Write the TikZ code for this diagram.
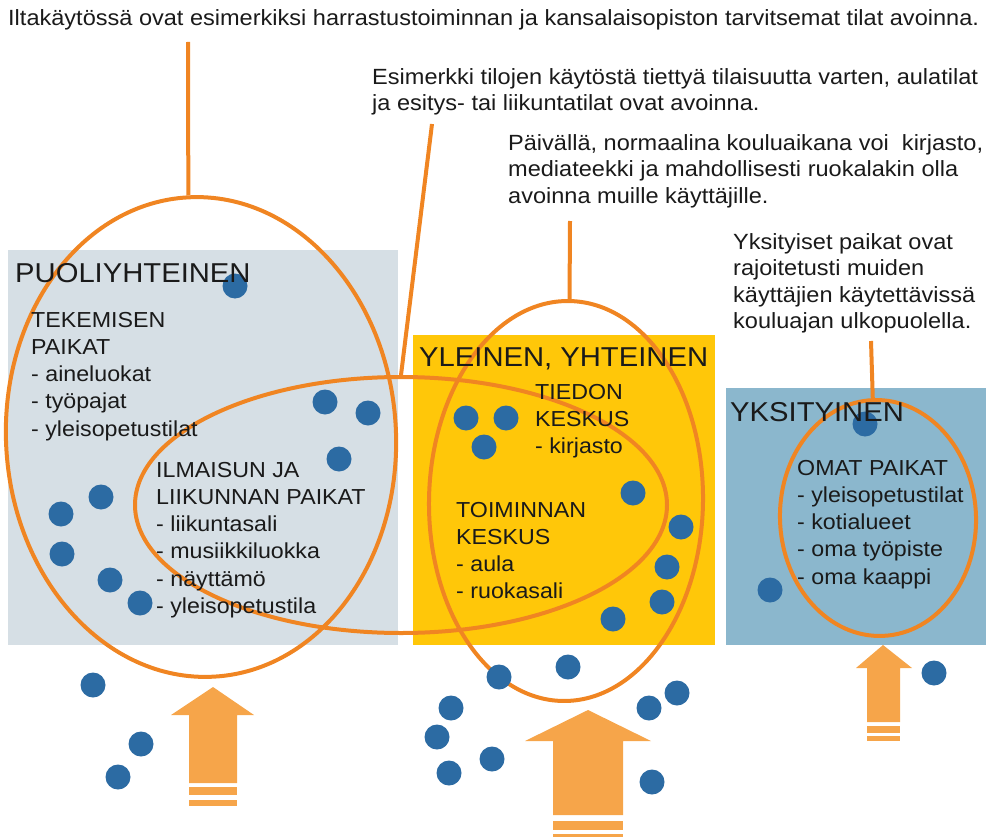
\documentclass[tikz,border=0pt]{standalone}
\usepackage{fontspec}
\setmainfont[FakeStretch=1.07]{Liberation Sans}
\usetikzlibrary{shapes.geometric}

\definecolor{zonegrey}{HTML}{D6DFE5}
\definecolor{zonegold}{HTML}{FFC709}
\definecolor{zoneblue}{HTML}{8BB7CD}
\definecolor{ringorange}{HTML}{F08522}
\definecolor{arrowfill}{HTML}{F6A54A}
\definecolor{dotblue}{HTML}{2C6BA3}
\definecolor{ink}{HTML}{1A1A1A}

\begin{document}
\begin{tikzpicture}[x=1pt,y=-1pt,
  ring/.style={ellipse,draw=ringorange,line width=4pt,inner sep=0pt},
  lead/.style={draw=ringorange,line width=4pt},
  person/.style={circle,fill=dotblue,minimum size=25pt,inner sep=0pt},
  note/.style={anchor=north west,inner sep=0pt,align=left,text=ink,
    font=\fontsize{22}{26.5}\selectfont},
  label/.style={anchor=north west,inner sep=0pt,align=left,text=ink,
    font=\fontsize{21.7}{27.2}\selectfont},
  title/.style={anchor=north west,inner sep=0pt,text=ink,
    font=\fontsize{27.3}{32}\selectfont},
  flow/.style={fill=arrowfill,draw=none}]

\useasboundingbox (0,0) rectangle (987,837);

% zones
\fill[zonegrey] (8,250) rectangle (398,645);
\fill[zonegold] (413,335) rectangle (715,645);
\fill[zoneblue] (726,388) rectangle (986,645);

% user groups
\node[ring,minimum width=390pt,minimum height=480pt,rotate=3] (semi) at (201,437) {};
\node[ring,minimum width=532pt,minimum height=256pt] (expr) at (401,505) {};
\node[ring,minimum width=274pt,minimum height=400pt,rotate=-1] (open) at (566,501) {};
\node[ring,minimum width=196pt,minimum height=236pt,rotate=2.5] (own) at (878,518) {};

% explanations
\node[note,font=\fontsize{22}{26}\selectfont] (evening) at (8,9)
  {Iltakäytössä ovat esimerkiksi harrastustoiminnan ja kansalaisopiston tarvitsemat tilat avoinna.};
\node[note] (event) at (372,68)
  {Esimerkki tilojen käytöstä tiettyä tilaisuutta varten, aulatilat\\ja esitys- tai liikuntatilat ovat avoinna.};
\node[note] (day) at (508,134)
  {Päivällä, normaalina kouluaikana voi\ \ kirjasto,\\mediateekki ja mahdollisesti ruokalakin olla\\avoinna muille käyttäjille.};
\node[note] (private) at (733,233)
  {Yksityiset paikat ovat\\rajoitetusti muiden\\käyttäjien käytettävissä\\kouluajan ulkopuolella.};

% leader lines
\coordinate (evening-end) at (188,42);
\coordinate (event-end) at (432,124);
\coordinate (day-end) at (570,221);
\coordinate (private-end) at (871,341);
\draw[lead] (evening-end) -- (semi.north);
\draw[lead] (event-end) -- (expr.north);
\draw[lead] (day-end) -- (open.north);
\draw[lead] (private-end) -- (own.north);

% people
\foreach \p [count=\i] in {(235,286),(325,402),(368,413),(339,459),(101,497),
  (61,514),(62,554),(110,580),(140,603),(93,685),(141,744),(118,777),
  (466,418),(506,418),(484,447),(633,493),(681,527),(667,567),(662,602),
  (613,619),(499,677),(568,667),(451,708),(437,737),(449,773),(492,759),
  (649,708),(677,693),(652,782),(770,590),(865,424),(934,673)}
  \node[person] (p\i) at \p {};

% zone titles
\node[title] (t-semi) at (15,263) {PUOLIYHTEINEN};
\node[title] (t-open) at (419,348) {YLEINEN, YHTEINEN};
\node[title] (t-own) at (730,402) {YKSITYINEN};

% space lists
\node[label] (work) at (31,312) {TEKEMISEN\\PAIKAT\\- aineluokat\\- työpajat\\- yleisopetustilat};
\node[label] (arts) at (156,462) {ILMAISUN JA\\LIIKUNNAN PAIKAT\\- liikuntasali\\- musiikkiluokka\\- näyttämö\\- yleisopetustila};
\node[label] (info) at (535,384) {TIEDON\\KESKUS\\- kirjasto};
\node[label] (action) at (456,502) {TOIMINNAN\\KESKUS\\- aula\\- ruokasali};
\node[label] (mine) at (797,460) {OMAT PAIKAT\\- yleisopetustilat\\- kotialueet\\- oma työpiste\\- oma kaappi};

% entry arrows
\fill[flow] (213,687) -- (254,715) -- (237,715) -- (237,783) -- (189,783) -- (189,715) -- (171,715) -- cycle;
\fill[flow] (189,787) rectangle (237,795);
\fill[flow] (189,800) rectangle (237,806);

\fill[flow] (588,710) -- (651,741) -- (623,741) -- (623,815) -- (553,815) -- (553,741) -- (525,741) -- cycle;
\fill[flow] (553,821) rectangle (623,830);
\fill[flow] (553,834) rectangle (623,843);

\fill[flow] (883,645) -- (912,668) -- (900,668) -- (900,722) -- (867,722) -- (867,668) -- (856,668) -- cycle;
\fill[flow] (867,726) rectangle (900,733);
\fill[flow] (867,736) rectangle (900,741);

\end{tikzpicture}
\end{document}
